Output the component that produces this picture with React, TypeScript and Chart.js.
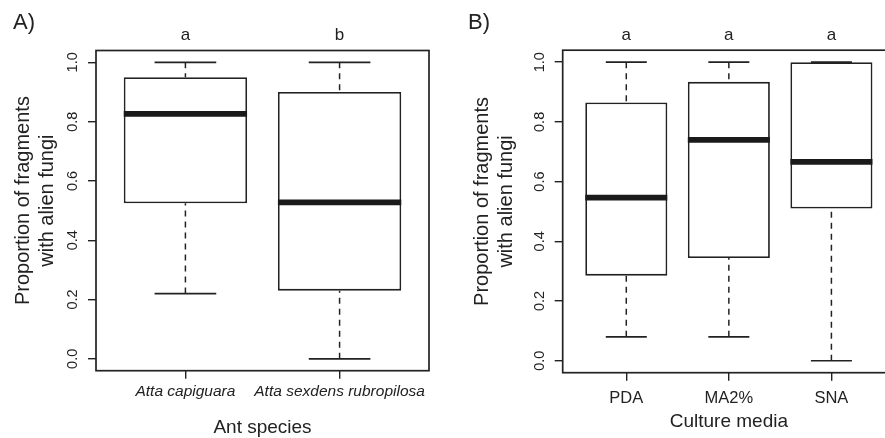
import React, { useEffect, useRef } from 'react';
import { Chart, registerables } from 'chart.js';

Chart.register(...registerables);

const FONT = "'Liberation Sans', Arial, Helvetica, sans-serif";
const INK = '#222222';

// ---- Panel A: ant species ----
const antSpecies = ['Atta capiguara', 'Atta sexdens rubropilosa'];
const antMin = [0.22, 0.0];
const antQ1 = [0.525, 0.23];
const antMedian = [0.826, 0.528];
const antQ3 = [0.95, 0.9];
const antMax = [1.0, 1.0];
const antLetters = ['a', 'b'];

// ---- Panel B: culture media ----
const mediaNames = ['PDA', 'MA2%', 'SNA'];
const mediaMin = [0.08, 0.08, 0.0];
const mediaQ1 = [0.285, 0.344, 0.51];
const mediaMedian = [0.546, 0.74, 0.666];
const mediaQ3 = [0.865, 0.934, 1.0];
const mediaMax = [1.0, 1.0, 1.0];
const mediaLetters = ['a', 'a', 'a'];

const yTickValues = [0, 0.2, 0.4, 0.6, 0.8, 1.0];
const yTitle = ['Proportion of fragments', 'with alien fungi'];

type Spec = {
  tag: string;
  cats: string[];
  lo: number[];
  q1: number[];
  med: number[];
  q3: number[];
  hi: number[];
  letters: string[];
  xTitle: string;
  italic: boolean;
  left: number;
  width: number;
  height: number;
  padTop: number;
  padRight: number;
  yWidth: number;
  xHeight: number;
  yTitleX: number;
  yTitleShift: number;
  yTickPad: number;
  xTickPad: number;
  xTickSize: number;
  xTitlePad: number;
  tagX: number;
  tagY: number;
  letterGap: number;
};

const specs: Spec[] = [
  {
    tag: 'A)', cats: antSpecies, lo: antMin, q1: antQ1, med: antMedian, q3: antQ3, hi: antMax,
    letters: antLetters, xTitle: 'Ant species', italic: true,
    left: 0, width: 440, height: 438, padTop: 50.5, padRight: 11, yWidth: 96, xHeight: 67.3,
    yTitleX: 23, yTitleShift: -10, yTickPad: 5, xTickPad: 3.5, xTickSize: 15.5, xTitlePad: -1.5,
    tagX: 13, tagY: 23, letterGap: 15,
  },
  {
    tag: 'B)', cats: mediaNames, lo: mediaMin, q1: mediaQ1, med: mediaMedian, q3: mediaQ3, hi: mediaMax,
    letters: mediaLetters, xTitle: 'Culture media', italic: false,
    left: 440, width: 466, height: 438, padTop: 50.2, padRight: 11, yWidth: 122.7, xHeight: 65.3,
    yTitleX: 42, yTitleShift: -10, yTickPad: 5, xTickPad: 8, xTickSize: 16.5, xTitlePad: 5,
    tagX: 28, tagY: 23, letterGap: 14.5,
  },
];

type P = { x: number; y: number | null };
type Seg = [number, number, number, number];

function segments(list: Seg[]): P[] {
  const pts: P[] = [];
  list.forEach(([x1, y1, x2, y2]) => {
    pts.push({ x: x1, y: y1 }, { x: x2, y: y2 }, { x: x2, y: null });
  });
  return pts;
}

function buildConfig(s: Spec): any {
  const n = s.cats.length;
  const boxHalf = 0.4;
  const capHalf = 0.2;
  const idx = s.cats.map((_, i) => i + 1);

  const whiskers = segments(
    idx.flatMap((x, i) => [
      [x, s.hi[i], x, s.q3[i]] as Seg,
      [x, s.lo[i], x, s.q1[i]] as Seg,
    ])
  );
  const caps = segments(
    idx.flatMap((x, i) => [
      [x - capHalf, s.hi[i], x + capHalf, s.hi[i]] as Seg,
      [x - capHalf, s.lo[i], x + capHalf, s.lo[i]] as Seg,
    ])
  );
  const medians = segments(idx.map((x, i) => [x - boxHalf, s.med[i], x + boxHalf, s.med[i]] as Seg));

  const frame = {
    id: 'frame',
    afterDatasetsDraw(chart: any) {
      const { ctx, chartArea: a } = chart;
      ctx.save();
      ctx.strokeStyle = INK;
      ctx.lineWidth = 1.7;
      ctx.strokeRect(a.left, a.top, a.right - a.left, a.bottom - a.top);
      ctx.restore();
    },
  };

  const texts = {
    id: 'panelText',
    afterDraw(chart: any) {
      const { ctx, chartArea, scales } = chart;
      ctx.save();
      ctx.fillStyle = INK;
      ctx.font = `22px ${FONT}`;
      ctx.textAlign = 'left';
      ctx.textBaseline = 'middle';
      ctx.fillText(s.tag, s.tagX, s.tagY);
      ctx.font = `17px ${FONT}`;
      ctx.textAlign = 'center';
      s.letters.forEach((l, i) => {
        ctx.fillText(l, scales.x.getPixelForValue(i + 1), chartArea.top - s.letterGap);
      });
      // y-axis title, two rotated lines
      const cy = (chartArea.top + chartArea.bottom) / 2 + s.yTitleShift;
      ctx.font = `20px ${FONT}`;
      ctx.translate(scales.y.left + s.yTitleX, cy);
      ctx.rotate(-Math.PI / 2);
      yTitle.forEach((line, i) => ctx.fillText(line, 0, i * 24));
      ctx.restore();
    },
  };

  const tickGrid = {
    display: true,
    drawOnChartArea: false,
    drawTicks: true,
    tickLength: 8,
    color: INK,
    lineWidth: 1.4,
    offset: false,
  };

  return {
    type: 'bar',
    data: {
      datasets: [
        {
          type: 'line',
          data: whiskers,
          borderColor: INK,
          borderWidth: 1.5,
          borderDash: [6, 5],
          pointRadius: 0,
          spanGaps: false,
          order: 3,
        },
        {
          type: 'bar',
          data: idx.map((x, i) => ({ x, y: [s.q1[i], s.q3[i]] })),
          backgroundColor: '#ffffff',
          borderColor: INK,
          borderWidth: 1.8,
          borderSkipped: false,
          barPercentage: 0.8,
          categoryPercentage: 1,
          order: 2,
        },
        {
          type: 'line',
          data: caps,
          borderColor: INK,
          borderWidth: 1.6,
          pointRadius: 0,
          spanGaps: false,
          order: 1,
        },
        {
          type: 'line',
          data: medians,
          borderColor: '#1a1a1a',
          borderWidth: 5.8,
          borderCapStyle: 'butt',
          pointRadius: 0,
          spanGaps: false,
          order: 0,
        },
      ],
    },
    options: {
      responsive: false,
      maintainAspectRatio: false,
      animation: false,
      events: [],
      layout: { padding: { top: s.padTop, right: s.padRight, left: 0, bottom: 0 } },
      plugins: { legend: { display: false }, tooltip: { enabled: false } },
      scales: {
        x: {
          type: 'linear',
          offset: false,
          min: 0.5 - 0.04 * n,
          max: n + 0.5 + 0.04 * n,
          afterBuildTicks: (sc: any) => {
            sc.ticks = idx.map((v) => ({ value: v }));
          },
          afterFit: (sc: any) => {
            sc.height = s.xHeight;
          },
          ticks: {
            autoSkip: false,
            maxRotation: 0,
            minRotation: 0,
            padding: s.xTickPad,
            color: INK,
            font: { family: FONT, size: s.xTickSize, style: s.italic ? 'italic' : 'normal' },
            callback: (v: any) => s.cats[Math.round(Number(v)) - 1] ?? '',
          },
          grid: tickGrid,
          border: { display: false },
          title: {
            display: true,
            text: s.xTitle,
            color: INK,
            font: { family: FONT, size: 19 },
            padding: { top: 0, bottom: s.xTitlePad },
          },
        },
        y: {
          type: 'linear',
          min: -0.04,
          max: 1.04,
          afterBuildTicks: (sc: any) => {
            sc.ticks = yTickValues.map((v) => ({ value: v }));
          },
          afterFit: (sc: any) => {
            sc.width = s.yWidth;
          },
          ticks: {
            minRotation: 90,
            maxRotation: 90,
            crossAlign: 'center',
            padding: s.yTickPad,
            color: INK,
            font: { family: FONT, size: 14.5 },
            callback: (v: any) => Number(v).toFixed(1),
          },
          grid: tickGrid,
          border: { display: false },
          title: { display: false },
        },
      },
    },
    plugins: [frame, texts],
  };
}

function Panel({ spec }: { spec: Spec }) {
  const ref = useRef<HTMLCanvasElement | null>(null);
  useEffect(() => {
    if (!ref.current) return;
    const chart = new Chart(ref.current, buildConfig(spec));
    return () => chart.destroy();
  }, [spec]);
  return (
    <canvas
      ref={ref}
      width={spec.width}
      height={spec.height}
      style={{ position: 'absolute', left: spec.left, top: 0, width: spec.width, height: spec.height }}
    />
  );
}

export default function App() {
  return (
    <div
      style={{
        position: 'fixed',
        left: 0,
        top: 0,
        width: 885,
        height: 438,
        overflow: 'hidden',
        background: '#ffffff',
      }}
    >
      {specs.map((s) => (
        <Panel key={s.tag} spec={s} />
      ))}
    </div>
  );
}
